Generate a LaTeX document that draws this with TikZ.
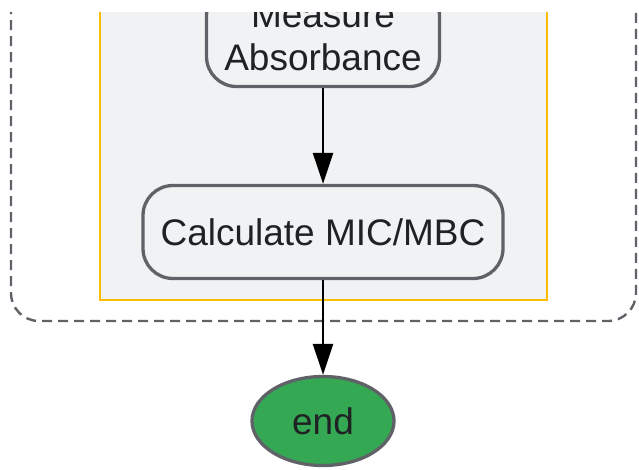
\documentclass[tikz,border=0pt]{standalone}
\usepackage{fontspec}
\setmainfont{Liberation Sans}
\usetikzlibrary{arrows.meta,shapes.geometric}
\definecolor{edgegray}{HTML}{5F6368}
\definecolor{boxfill}{HTML}{F1F2F4}
\definecolor{clusteryellow}{HTML}{FBBC04}
\definecolor{endgreen}{HTML}{34A853}
\definecolor{txt}{HTML}{202124}
\tikzset{
  outerframe/.style={draw=edgegray, line width=2.4pt, dash pattern=on 10pt off 6pt, rounded corners=28pt},
  cluster/.style={draw=clusteryellow, fill=boxfill, line width=2.4pt},
  stepbox/.style={draw=edgegray, fill=boxfill, line width=3.3pt, rounded corners=30pt,
    text=txt, font=\fontsize{37}{43}\selectfont, align=center, inner sep=0pt},
  endnode/.style={ellipse, draw=edgegray, fill=endgreen, line width=3.3pt,
    text=txt, font=\fontsize{37}{43}\selectfont, inner sep=0pt,
    minimum width=142pt, minimum height=89pt},
  flow/.style={draw=black, line width=2.2pt, -{Triangle[length=31pt, width=20pt]}}
}
\begin{document}
\begin{tikzpicture}[x=1pt, y=-1pt]
\useasboundingbox (0,0) rectangle (639,469);
\fill[white] (0,0) rectangle (639,469);
\begin{scope}
\clip (0,12) rectangle (639,469);
\draw[outerframe] (11,-120) rectangle (636,321);
\draw[cluster] (100,-120) rectangle (547,300);
\node[stepbox, minimum width=233pt, minimum height=100.5pt] (measure) at (323,36.25) {Measure\\Absorbance};
\end{scope}
\node[stepbox, minimum width=360pt, minimum height=93pt] (calc) at (323,232) {Calculate MIC/MBC};
\node[endnode] (end) at (323,421) {end};
\draw[flow] (measure) -- (calc);
\draw[flow] (calc) -- (end);
\end{tikzpicture}
\end{document}
